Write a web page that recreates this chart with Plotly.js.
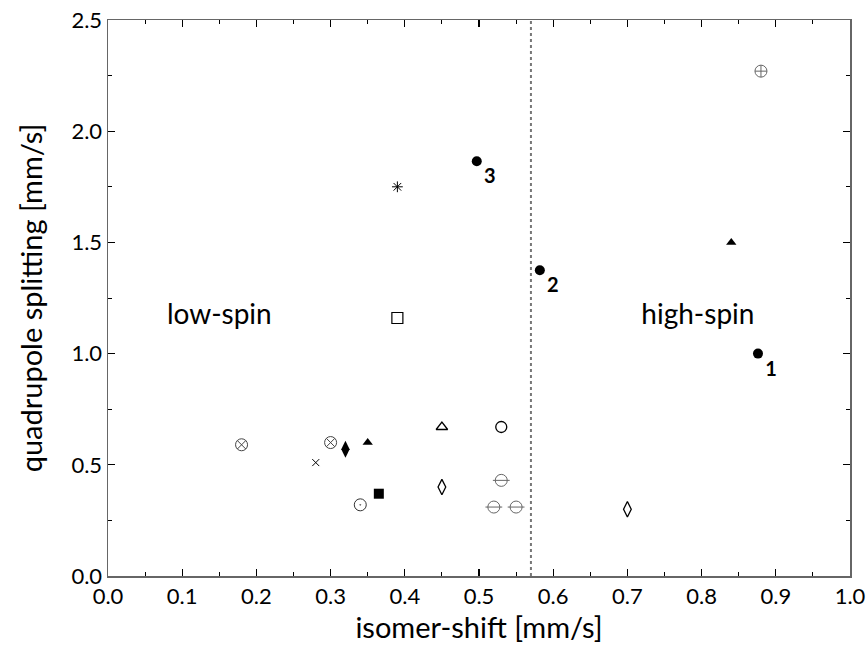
<!DOCTYPE html>
<html><head><meta charset="utf-8">
<script src="https://cdn.plot.ly/plotly-3.0.1.min.js"></script>
<style>html,body{margin:0;padding:0;background:#fff}</style>
</head><body>
<div id="chart" style="width:866px;height:656px"></div>
<script>
// Data (isomer shift [mm/s], quadrupole splitting [mm/s])
const circXx = [0.18, 0.30], circXy = [0.59, 0.60];
const diamondFx = [0.32], diamondFy = [0.57];
const triFx = [0.35, 0.84], triFy = [0.60, 1.50];
const crossx = [0.28], crossy = [0.51];
const circDotx = [0.34], circDoty = [0.32];
const squareFx = [0.365], squareFy = [0.37];
const triOx = [0.45], triOy = [0.67];
const circOx = [0.53], circOy = [0.67];
const diamondOx = [0.45, 0.70], diamondOy = [0.40, 0.30];
const circMinusx = [0.53, 0.52, 0.55], circMinusy = [0.43, 0.31, 0.31];
const circPlusx = [0.88], circPlusy = [2.27];
const numberedx = [0.876, 0.582, 0.497], numberedy = [1.00, 1.375, 1.865];
const numberedLabels = ["1", "2", "3"];
const starx = [0.39], stary = [1.75];
const squareOx = [0.39], squareOy = [1.16];
const spinBoundary = 0.57;
const regionLabels = ["low-spin", "high-spin"], regionx = [0.15, 0.795], regiony = [1.165, 1.165];

const FONT = "Lato, 'DejaVu Sans', sans-serif";
function tr(x, y, symbol, size, color, lw) {
  return {x: x, y: y, type: 'scatter', mode: 'markers', hoverinfo: 'skip',
    marker: {symbol: symbol, size: size, color: color, line: {color: color, width: lw}}};
}
const traces = [
  tr(circXx, circXy, 'circle-x-open', 12, '#444', 1),
  tr(diamondFx, diamondFy, 'diamond-tall', 12, '#000', 0),
  tr(triFx, triFy, 'triangle-up', 9, '#000', 0),
  tr(crossx, crossy, 'x-thin-open', 7, '#000', 1),
  tr(circDotx, circDoty, 'circle-open-dot', 12, '#333', 1),
  tr(squareFx, squareFy, 'square', 10, '#000', 0),
  tr(triOx, triOy, 'triangle-up-open', 10, '#000', 1.3),
  tr(circOx, circOy, 'circle-open', 11, '#000', 1.3),
  tr(diamondOx, diamondOy, 'diamond-tall-open', 11, '#000', 1.3),
  tr(circMinusx, circMinusy, 'circle-open', 12, '#666', 1),
  tr(circMinusx, circMinusy, 'line-ew-open', 12, '#666', 1),
  tr(circPlusx, circPlusy, 'circle-cross-open', 12, '#666', 1),
  tr(starx, stary, 'asterisk-open', 9, '#000', 1),
  tr(squareOx, squareOy, 'square-open', 11, '#000', 1.2),
  {x: numberedx, y: numberedy, type: 'scatter', mode: 'markers+text', hoverinfo: 'skip',
   text: numberedLabels, textposition: 'bottom right',
   textfont: {family: FONT, size: 20, color: '#000', weight: 'bold'},
   marker: {symbol: 'circle', size: 10, color: '#000'}},
  {x: regionx, y: regiony, type: 'scatter', mode: 'text', hoverinfo: 'skip',
   text: regionLabels, textposition: 'middle center',
   textfont: {family: FONT, size: 28, color: '#000'}}
];
const axisCommon = {
  showgrid: false, zeroline: false, showline: true, linecolor: '#666', linewidth: 1.5,
  mirror: 'ticks', ticks: 'inside', ticklen: 7, tickwidth: 1.2, tickcolor: '#000',
  tickfont: {family: FONT, size: 22, color: '#000'},
  minor: {ticks: 'inside', ticklen: 4, tickwidth: 1, tickcolor: '#000'}
};
const layout = {
  width: 866, height: 656, showlegend: false,
  paper_bgcolor: '#fff', plot_bgcolor: '#fff',
  margin: {l: 108, r: 16, t: 20, b: 80},
  xaxis: Object.assign({}, axisCommon, {range: [0, 1], dtick: 0.1, tickformat: '.1f',
    minor: Object.assign({}, axisCommon.minor, {dtick: 0.05}),
    title: {text: 'isomer-shift [mm/s]', font: {family: FONT, size: 29, color: '#000'}, standoff: 8}}),
  yaxis: Object.assign({}, axisCommon, {range: [0, 2.5], dtick: 0.5, tickformat: '.1f',
    minor: Object.assign({}, axisCommon.minor, {dtick: 0.25}),
    title: {text: 'quadrupole splitting [mm/s]', font: {family: FONT, size: 29, color: '#000'}, standoff: 20}}),
  shapes: [{type: 'line', xref: 'x', yref: 'paper', x0: spinBoundary, x1: spinBoundary, y0: 0, y1: 1,
    line: {color: '#777', width: 2, dash: 'dot'}}]
};
Plotly.newPlot('chart', traces, layout, {staticPlot: true});
</script>
</body></html>
